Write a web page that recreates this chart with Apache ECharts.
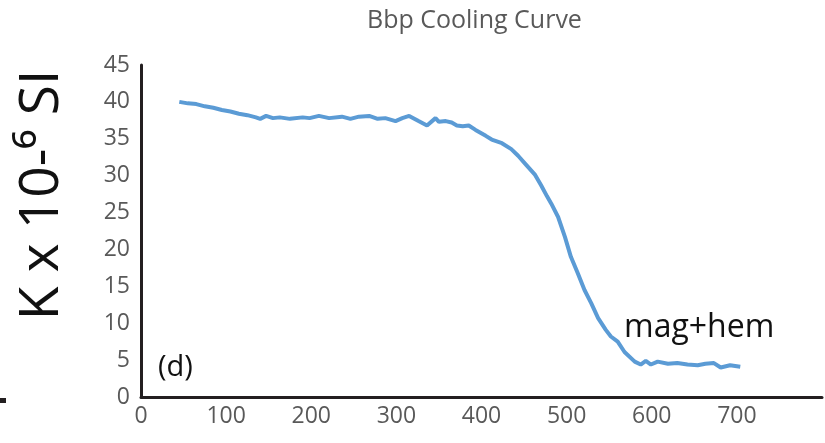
<!DOCTYPE html>
<html>
<head>
    <meta charset="utf-8"/>
    <title>Bbp Cooling Curve</title>
    <style>
        html, body { margin: 0; padding: 0; background: #fff; }
    </style>
</head>
<body>
<div id="cooling" style="width:825px;height:443px"></div>
<script src="https://cdn.jsdelivr.net/npm/echarts@6/dist/echarts.min.js"></script>
<script type="text/javascript">
    // temperature (deg C) and susceptibility (K x 10^-6 SI)
    var temps = [45, 55, 65, 75, 85, 95, 105, 115, 125, 135, 140, 147, 155, 163, 175, 190, 198, 209, 221, 236,
        246, 256, 268, 278, 287, 299, 307, 315, 326, 336, 346, 350, 358, 365, 371, 378, 385, 393, 405, 412,
        424, 435, 443, 453, 463, 470, 477, 482, 490, 498, 505, 513, 521, 529, 537, 546, 552, 560, 568, 580,
        587, 593, 599, 607, 619, 630, 642, 654, 663, 673, 681, 692, 704];
    var kappa = [40.0, 39.8, 39.7, 39.4, 39.2, 38.9, 38.7, 38.4, 38.2, 37.9, 37.7, 38.1, 37.8, 37.9, 37.7, 37.9, 37.8, 38.1, 37.8, 38.0,
        37.7, 38.0, 38.1, 37.7, 37.8, 37.4, 37.8, 38.1, 37.4, 36.8, 37.8, 37.3, 37.4, 37.2, 36.8, 36.7, 36.8, 36.2, 35.4, 34.9,
        34.4, 33.6, 32.7, 31.4, 30.1, 28.7, 27.2, 26.2, 24.4, 21.7, 19.0, 16.8, 14.5, 12.7, 10.7, 9.1, 8.2, 7.5, 6.1, 4.8,
        4.4, 4.9, 4.4, 4.8, 4.5, 4.6, 4.4, 4.3, 4.5, 4.6, 4.0, 4.3, 4.1];

    var seriesData = [];
    for (var i = 0; i < temps.length; i++) {
        seriesData.push([temps[i], kappa[i]]);
    }

    var font = 'Open Sans';
    var option = {
        animation: false,
        title: {
            text: 'Bbp Cooling Curve',
            left: 362,
            top: 3,
            textStyle: {
                fontFamily: font,
                fontWeight: 'normal',
                fontSize: 25,
                color: '#595959'
            }
        },
        grid: {
            left: 141,
            right: 0,
            top: 65,
            bottom: 46
        },
        xAxis: {
            type: 'value',
            min: 0,
            max: 800,
            interval: 100,
            axisLine: { lineStyle: { color: '#231f20', width: 3 } },
            axisTick: { show: false },
            splitLine: { show: false },
            axisLabel: {
                margin: 8,
                fontFamily: font,
                fontSize: 23,
                color: '#595959',
                formatter: function (v) {
                    return v >= 800 ? '' : v;
                }
            }
        },
        yAxis: {
            type: 'value',
            min: 0,
            max: 45,
            interval: 5,
            axisLine: { show: true, lineStyle: { color: '#231f20', width: 3 } },
            axisTick: { show: false },
            splitLine: { show: false },
            axisLabel: {
                margin: 11,
                fontFamily: font,
                fontSize: 23,
                color: '#595959'
            }
        },
        series: [{
            type: 'line',
            data: seriesData,
            showSymbol: false,
            lineStyle: { color: '#5b9bd5', width: 4 }
        }],
        graphic: [
            {
                type: 'text',
                x: 42,
                y: 195,
                rotation: Math.PI / 2,
                style: {
                    text: 'K x 10-\u2076 SI',
                    fontFamily: font,
                    fontSize: 55,
                    fill: '#111',
                    textAlign: 'center',
                    textVerticalAlign: 'middle'
                }
            },
            {
                type: 'text',
                x: 158,
                y: 368,
                style: {
                    text: '(d)',
                    fontFamily: font,
                    fontSize: 29,
                    fill: '#111',
                    textAlign: 'left',
                    textVerticalAlign: 'middle'
                }
            },
            {
                type: 'text',
                x: 624,
                y: 328,
                style: {
                    text: 'mag+hem',
                    fontFamily: font,
                    fontSize: 32,
                    fill: '#111',
                    textAlign: 'left',
                    textVerticalAlign: 'middle'
                }
            },
            {
                type: 'rect',
                shape: { x: 0, y: 398, width: 6, height: 5 },
                style: { fill: '#231f20' }
            }
        ]
    };

    var chart = echarts.init(document.getElementById('cooling'));
    chart.setOption(option);
</script>
</body>
</html>
